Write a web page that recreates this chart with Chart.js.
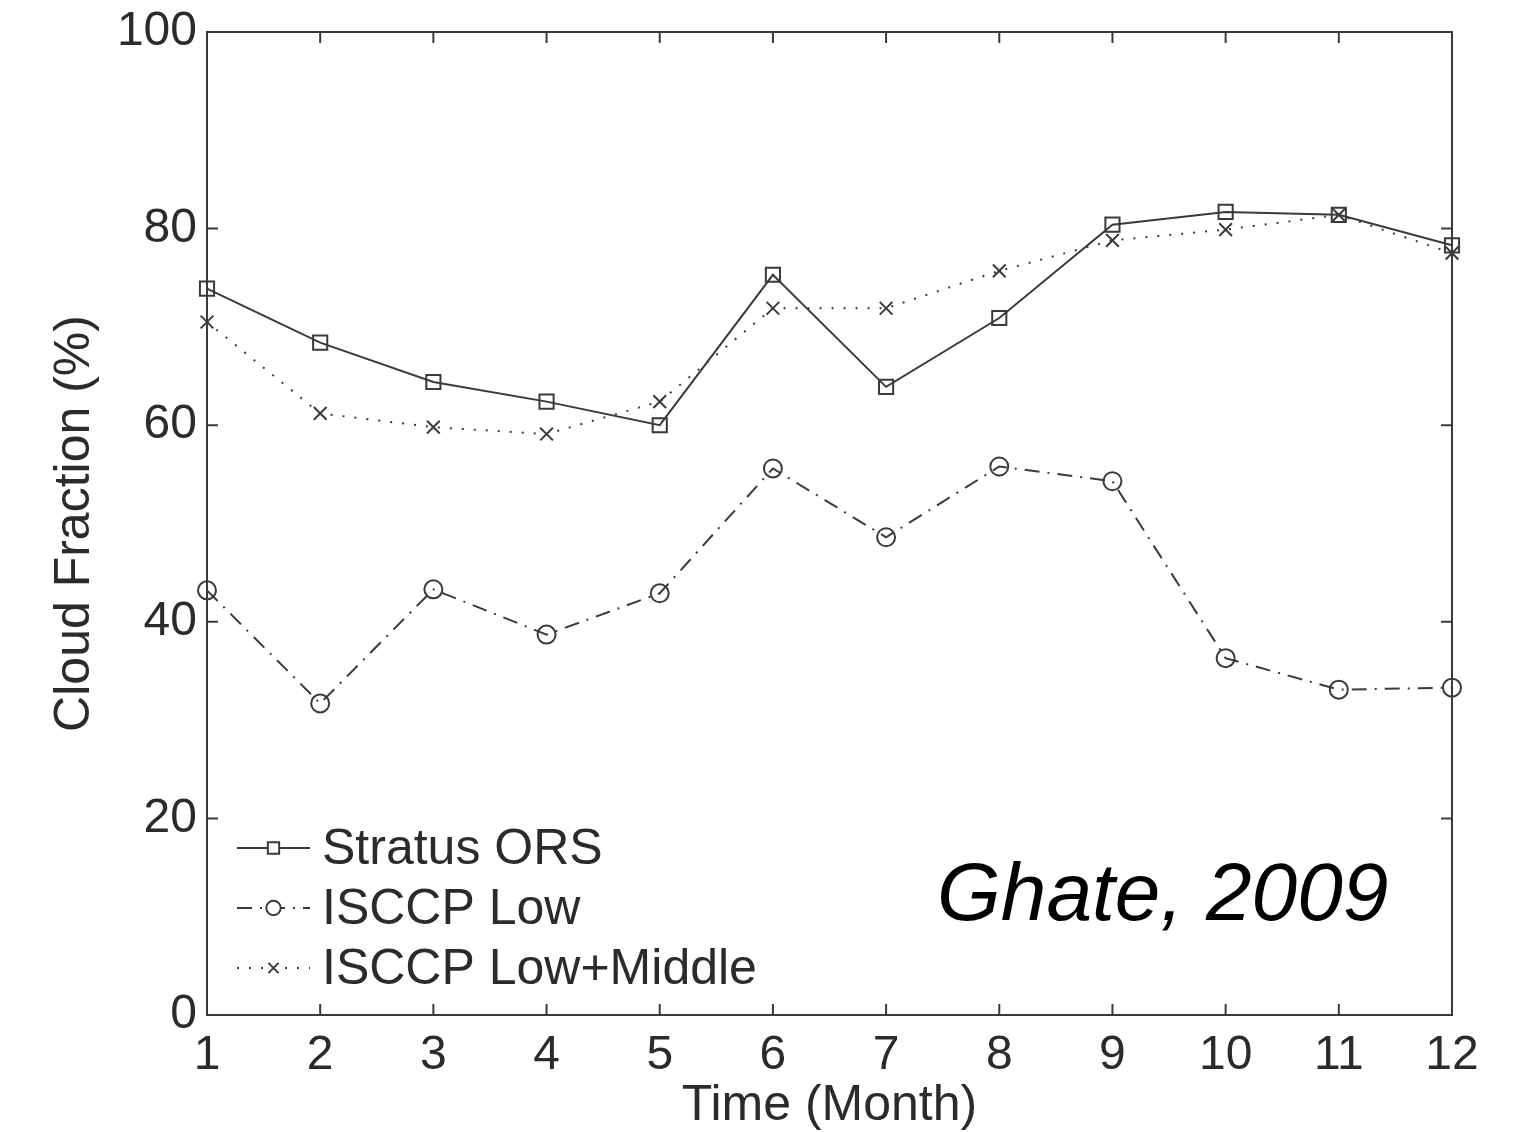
<!DOCTYPE html>
<html>
<head>
<meta charset="utf-8">
<script src="https://cdn.jsdelivr.net/npm/chart.js@4/dist/chart.umd.min.js"></script>
<style>
  html, body { margin: 0; padding: 0; background: #fff; }
  #wrap { width: 1523px; height: 1132px; }
</style>
</head>
<body>
<div id="wrap"><canvas id="cloudChart"></canvas></div>
<script>
// Monthly cloud fraction
const months = [1, 2, 3, 4, 5, 6, 7, 8, 9, 10, 11, 12];
const stratusOrs = [73.9, 68.4, 64.4, 62.4, 60.0, 75.3, 63.9, 70.9, 80.4, 81.7, 81.4, 78.3];
const isccpLow = [43.2, 31.7, 43.3, 38.7, 42.9, 55.6, 48.6, 55.8, 54.3, 36.3, 33.1, 33.3];
const isccpLowMid = [70.5, 61.2, 59.8, 59.1, 62.4, 71.9, 71.9, 75.7, 78.8, 79.9, 81.4, 77.5];
const seriesNames = ['Stratus ORS', 'ISCCP Low', 'ISCCP Low+Middle'];
const yTicks = [0, 20, 40, 60, 80, 100];

const ink = '#3a3a3a';
const font = 'Liberation Sans, Arial, Helvetica, sans-serif';

const toPoints = arr => arr.map((v, i) => ({ x: months[i], y: v }));

// box with inward ticks on all four sides
const boxPlugin = {
  id: 'box',
  afterDraw(chart) {
    const { ctx, chartArea: a, scales } = chart;
    const tl = 11;
    ctx.save();
    ctx.strokeStyle = ink;
    ctx.lineWidth = 2;
    ctx.strokeRect(a.left, a.top, a.right - a.left, a.bottom - a.top);
    ctx.beginPath();
    months.forEach(m => {
      const x = scales.x.getPixelForValue(m);
      ctx.moveTo(x, a.bottom); ctx.lineTo(x, a.bottom - tl);
      ctx.moveTo(x, a.top); ctx.lineTo(x, a.top + tl);
    });
    yTicks.forEach(v => {
      const y = scales.y.getPixelForValue(v);
      ctx.moveTo(a.left, y); ctx.lineTo(a.left + tl, y);
      ctx.moveTo(a.right, y); ctx.lineTo(a.right - tl, y);
    });
    ctx.stroke();
    ctx.restore();
  }
};

// legend drawn inside the plot (line + marker + label), plus the citation text
const legendPlugin = {
  id: 'insideLegend',
  afterDraw(chart) {
    const { ctx, chartArea: a } = chart;
    const x0 = a.left + 30, x1 = a.left + 103, xm = (x0 + x1) / 2;
    ctx.save();
    chart.data.datasets.forEach((ds, i) => {
      const y = a.bottom - 167 + i * 60;
      ctx.strokeStyle = ds.borderColor;
      ctx.lineWidth = ds.borderWidth;
      ctx.setLineDash(ds.borderDash || []);
      ctx.beginPath();
      ctx.moveTo(x0, y); ctx.lineTo(x1, y);
      ctx.stroke();
      ctx.setLineDash([]);
      ctx.fillStyle = '#fff';
      Chart.helpers.drawPoint(ctx, {
        pointStyle: ds.pointStyle, radius: ds.pointRadius * 0.8,
        rotation: 0, borderWidth: ds.pointBorderWidth
      }, xm, y);
      ctx.fillStyle = '#2b2b2b';
      ctx.font = '50px ' + font;
      ctx.textBaseline = 'middle';
      ctx.textAlign = 'left';
      ctx.fillText(ds.label, a.left + 115, y + 2);
    });
    ctx.fillStyle = '#000';
    ctx.font = 'italic 82px ' + font;
    ctx.textBaseline = 'alphabetic';
    ctx.fillText('Ghate, 2009', a.left + 730, a.bottom - 95);
    ctx.restore();
  }
};

const common = {
  borderColor: ink,
  borderWidth: 2,
  pointBorderColor: ink,
  pointBackgroundColor: 'rgba(0,0,0,0)',
  pointBorderWidth: 2,
  clip: false,
  tension: 0
};

const ctx = document.getElementById('cloudChart').getContext('2d');
const cloudChart = new Chart(ctx, {
  type: 'line',
  data: {
    datasets: [
      { ...common, label: seriesNames[0], data: toPoints(stratusOrs), pointStyle: 'rect', pointRadius: 10 },
      { ...common, label: seriesNames[1], data: toPoints(isccpLow), pointStyle: 'circle', pointRadius: 9, borderDash: [15, 8, 2, 8] },
      { ...common, label: seriesNames[2], data: toPoints(isccpLowMid), pointStyle: 'crossRot', pointRadius: 9, borderDash: [2, 10], borderWidth: 2 }
    ]
  },
  options: {
    responsive: true,
    maintainAspectRatio: false,
    animation: false,
    layout: { padding: { left: 40, right: 71, top: 32, bottom: 0 } },
    plugins: { legend: { display: false }, tooltip: { enabled: false } },
    scales: {
      x: {
        type: 'linear', min: 1, max: 12,
        afterBuildTicks: s => { s.ticks = months.map(v => ({ value: v })); },
        afterFit: s => { s.height = 117; s.paddingLeft = 0; s.paddingRight = 0; },
        grid: { display: false, drawTicks: false },
        border: { display: false },
        ticks: { color: '#2b2b2b', font: { family: font, size: 48 }, padding: 12, maxRotation: 0 },
        title: { display: true, text: 'Time (Month)', color: '#2b2b2b', font: { family: font, size: 50 }, padding: { top: 0, bottom: -4 } }
      },
      y: {
        min: 0, max: 100,
        afterBuildTicks: s => { s.ticks = yTicks.map(v => ({ value: v })); },
        afterFit: s => { s.width = 167; s.paddingTop = 0; s.paddingBottom = 0; },
        grid: { display: false, drawTicks: false },
        border: { display: false },
        ticks: { color: '#2b2b2b', font: { family: font, size: 48 }, padding: 10 },
        title: { display: true, text: 'Cloud Fraction (%)', color: '#2b2b2b', font: { family: font, size: 50 }, padding: { top: 5, bottom: 0 } }
      }
    }
  },
  plugins: [boxPlugin, legendPlugin]
});
</script>
</body>
</html>
